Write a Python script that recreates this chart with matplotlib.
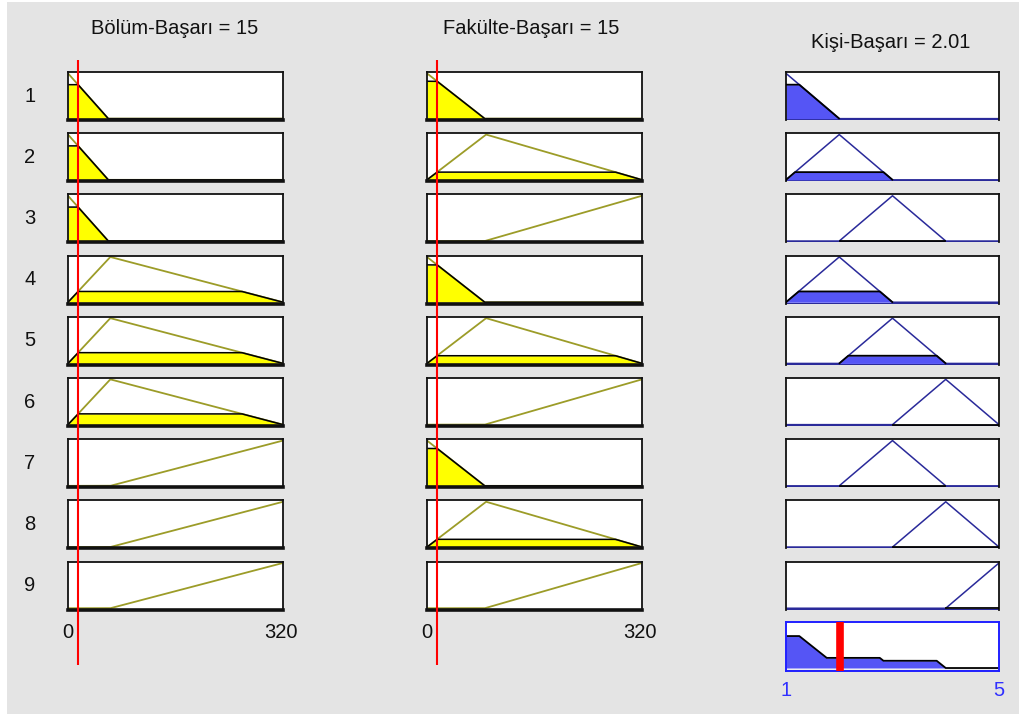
import numpy as np
import matplotlib
matplotlib.use("Agg")
import matplotlib.pyplot as plt
from matplotlib.patches import Rectangle

# input / output ranges and crisp values
bolum_range = [0, 320]
fakulte_range = [0, 320]
kisi_range = [1, 5]
bolum_value = 15
fakulte_value = 15
kisi_value = 2.01

# triangular membership functions [a, b, c]
bolum_mfs = [[-60, 0, 60], [0, 63, 320], [63, 320, 577]]
fakulte_mfs = [[-86, 0, 86], [0, 88, 320], [86, 320, 554]]
kisi_mfs = [[0, 1, 2], [1, 2, 3], [2, 3, 4], [3, 4, 5], [4, 5, 6]]

# rule base: (bolum mf, fakulte mf) -> kisi mf
rule_bolum = [0, 0, 0, 1, 1, 1, 2, 2, 2]
rule_fakulte = [0, 1, 2, 0, 1, 2, 0, 1, 2]
rule_kisi = [0, 1, 2, 1, 2, 3, 2, 3, 4]

W, H = 1020, 714
GRAY = "#e4e4e4"
YELLOW = "#ffff00"
OLIVE = "#9c9c28"
BLUE_FILL = "#5555f5"
NAVY = "#2a2a9a"
FS = 14.5


def trimf(x, p):
    a, b, c = p
    left = np.where(b > a, (x - a) / (b - a if b > a else 1), 1.0)
    right = np.where(c > b, (c - x) / (c - b if c > b else 1), 1.0)
    return np.clip(np.minimum(left, right), 0, 1)


def px_axes(fig, x0, y0, x1, y1):
    return fig.add_axes([x0 / W, 1 - y1 / H, (x1 - x0) / W, (y1 - y0) / H])


def style_box(ax, edge="#111111", bottom=2.6):
    ax.set_xticks([])
    ax.set_yticks([])
    for s in ax.spines.values():
        s.set_color(edge)
        s.set_linewidth(1.3)
    ax.spines["bottom"].set_linewidth(bottom)


fig = plt.figure(figsize=(W / 100, H / 100), dpi=100, facecolor="white")
fig.patches.append(Rectangle((7 / W, 0), 1, 1 - 2 / H, transform=fig.transFigure,
                             facecolor=GRAY, edgecolor="none", zorder=-10))

plt.rcParams["font.family"] = ["Liberation Sans", "DejaVu Sans"]

row_top0, row_pitch, row_h = 72, 61.2, 48
cols = [(68, 283), (427, 642)]
out_col = (786, 999)

bolum_deg = [float(trimf(np.array(bolum_value), m)) for m in bolum_mfs]
fakulte_deg = [float(trimf(np.array(fakulte_value), m)) for m in fakulte_mfs]

xi = np.linspace(0, 320, 801)
xo = np.linspace(1, 5, 801)
aggregate = np.zeros_like(xo)

for r in range(9):
    top = row_top0 + r * row_pitch
    bot = top + row_h
    fig.text(30 / W, 1 - (top + row_h / 2) / H, str(r + 1), fontsize=FS,
             ha="center", va="center", color="#111111")

    for (x0, x1), mfs, deg, idx in [(cols[0], bolum_mfs, bolum_deg, rule_bolum[r]),
                                    (cols[1], fakulte_mfs, fakulte_deg, rule_fakulte[r])]:
        ax = px_axes(fig, x0, top, x1, bot)
        ax.set_facecolor("white")
        y = trimf(xi, mfs[idx])
        w = deg[idx]
        if w > 0:
            yc = np.minimum(y, w)
            ax.fill_between(xi, 0, yc, color=YELLOW, lw=0)
            ax.plot(xi, yc, color="black", lw=1.1)
        ax.plot(xi, y, color=OLIVE, lw=1.3, zorder=1)
        ax.set_xlim(0, 320)
        ax.set_ylim(-0.03, 1.03)
        style_box(ax)

    # rule output
    fire = min(bolum_deg[rule_bolum[r]], fakulte_deg[rule_fakulte[r]])
    ax = px_axes(fig, out_col[0], top, out_col[1], bot)
    ax.set_facecolor("white")
    y = trimf(xo, kisi_mfs[rule_kisi[r]])
    yc = np.minimum(y, fire)
    aggregate = np.maximum(aggregate, yc)
    ax.plot(xo, y, color=NAVY, lw=1.1, zorder=2)
    support = y > 0
    if fire > 0:
        ax.fill_between(xo, 0, yc, color=BLUE_FILL, lw=0, zorder=1)
    ax.plot(xo[support], yc[support], color="black", lw=1.3, zorder=3)
    ax.set_xlim(1, 5)
    ax.set_ylim(-0.03, 1.03)
    style_box(ax, bottom=1.3)
    ax.spines["bottom"].set_visible(False)
    ax.axhline(-0.03, color=NAVY, lw=2.2, zorder=0)

# aggregated output
ax = px_axes(fig, out_col[0], 622, out_col[1], 671)
ax.set_facecolor("white")
ax.fill_between(xo, 0, aggregate, color=BLUE_FILL, lw=0)
ax.plot(xo, aggregate, color="black", lw=1.3)
ax.axhline(-0.04, color="#aaaaaa", lw=1)
ax.axvline(kisi_value, color="red", lw=5.5, zorder=5)
ax.set_xlim(1, 5)
ax.set_ylim(-0.07, 1.08)
ax.set_xticks([])
ax.set_yticks([])
for s in ax.spines.values():
    s.set_color("#2020ff")
    s.set_linewidth(1.4)

# crisp input markers
for (x0, x1), val in [(cols[0], bolum_value), (cols[1], fakulte_value)]:
    ov = px_axes(fig, x0, 60, x1, 665)
    ov.axis("off")
    ov.set_xlim(0, 320)
    ov.set_ylim(0, 1)
    ov.axvline(val, color="red", lw=1.5)

# titles and range labels
fig.text(175 / W, 1 - 28 / H, f"Bölüm-Başarı = {bolum_value}", fontsize=FS,
         ha="center", va="center", color="#111111")
fig.text(531 / W, 1 - 28 / H, f"Fakülte-Başarı = {fakulte_value}", fontsize=FS,
         ha="center", va="center", color="#111111")
fig.text(891 / W, 1 - 43 / H, f"Kişi-Başarı = {kisi_value:.2f}", fontsize=FS,
         ha="center", va="center", color="#111111")

for (x0, x1), rng in [(cols[0], bolum_range), (cols[1], fakulte_range)]:
    fig.text(x0 / W, 1 - 632 / H, str(rng[0]), fontsize=FS, ha="center", va="center", color="#111111")
    fig.text((x1 - 2) / W, 1 - 632 / H, str(rng[1]), fontsize=FS, ha="center", va="center", color="#111111")
fig.text(out_col[0] / W, 1 - 690 / H, str(kisi_range[0]), fontsize=FS, ha="center", va="center", color="#3030ff")
fig.text(out_col[1] / W, 1 - 690 / H, str(kisi_range[1]), fontsize=FS, ha="center", va="center", color="#3030ff")

fig.savefig("out.png", dpi=100, facecolor=fig.get_facecolor())
